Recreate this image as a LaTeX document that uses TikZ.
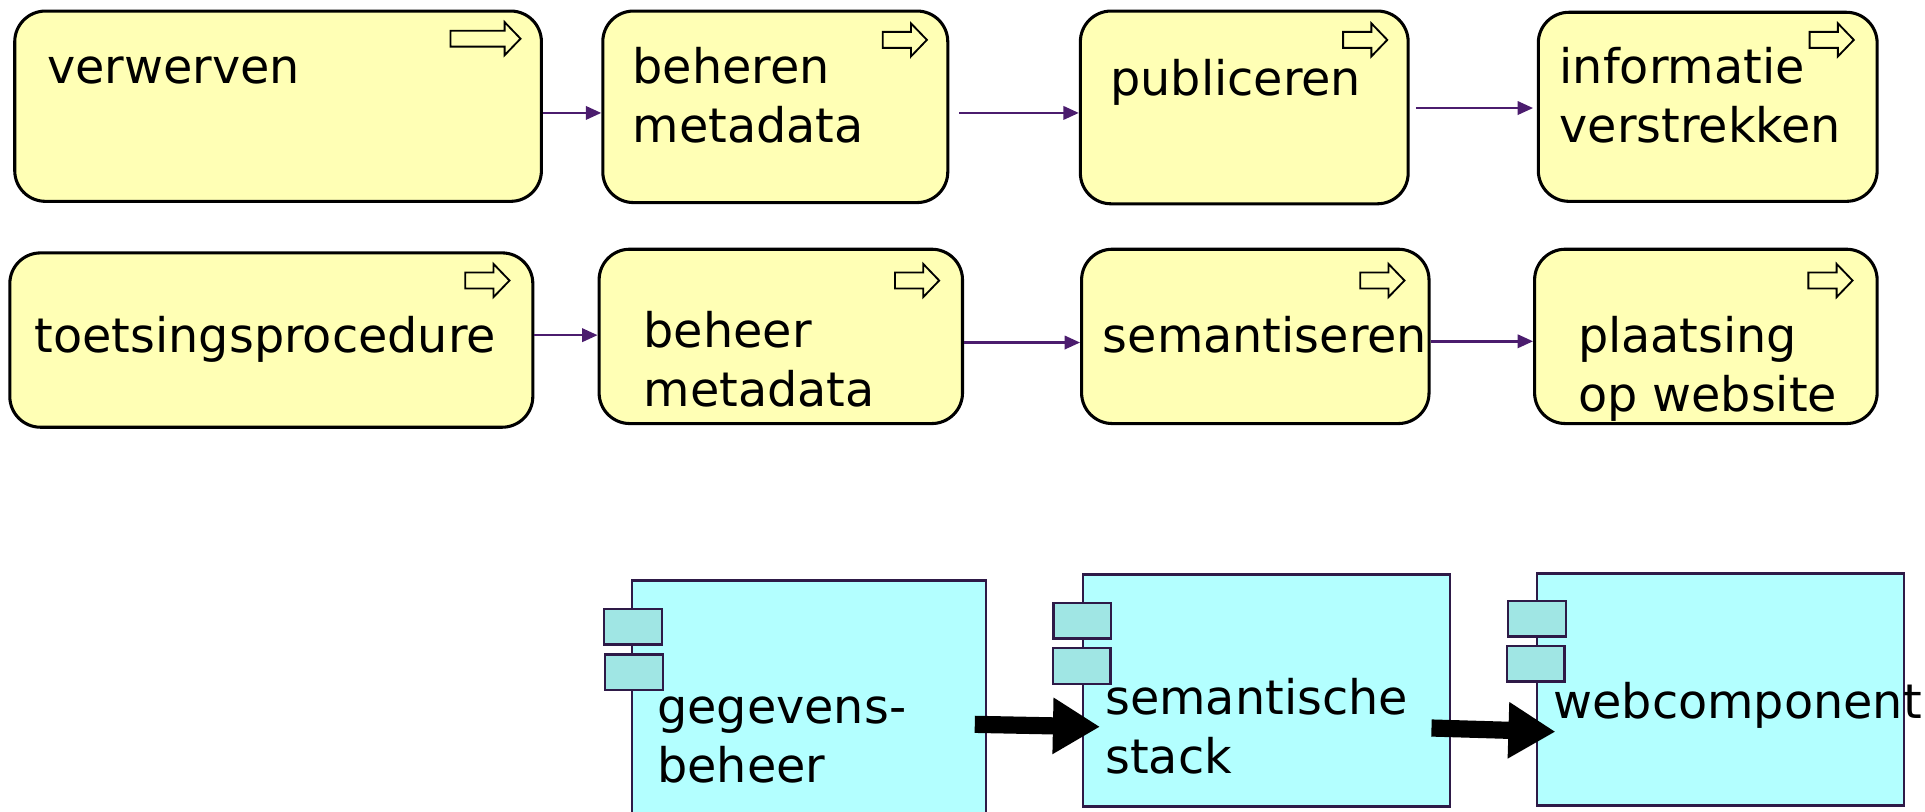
\documentclass[tikz,border=0pt]{standalone}
\usepackage{fontspec}
\setmainfont{DejaVu Sans}
\usepackage{tikz}
\usetikzlibrary{arrows.meta,calc,positioning}
\usepackage{xcolor}

\definecolor{procyellow}{HTML}{FFFFB5}
\definecolor{compcyan}{HTML}{B3FFFF}
\definecolor{portcyan}{HTML}{A0E6E4}
\definecolor{flowpurple}{HTML}{4B1C6E}
\definecolor{compline}{HTML}{2E1A47}

\newdimen\px \px=0.6pt

\tikzset{
  proc/.style={draw=black, line width=1.5pt, fill=procyellow, rounded corners=15pt, inner sep=0pt},
  comp/.style={draw=compline, line width=1.2pt, fill=compcyan, inner sep=0pt},
  port/.style={draw=compline, line width=1.2pt, fill=portcyan, inner sep=0pt, minimum width=47\px, minimum height=29\px},
  lbl/.style={anchor=base west, inner sep=0pt, align=left, font=\fontsize{23.3}{28.8}\selectfont},
  flow/.style={draw=flowpurple, line width=1.2pt, -{Triangle[length=7.5pt,width=6.5pt]}},
  bigflow/.style={draw=black, line width=8.4pt, -{Triangle[length=23pt,width=26pt]}},
  icon/.style={draw=black, line width=0.9pt, fill=procyellow}
}

% block arrow in the corner of a process box: x, y, width
\newcommand{\actarrow}[3]{%
  \draw[icon] (#1,#2+7) -- (#1+#3-13,#2+7) -- (#1+#3-13,#2) -- (#1+#3,#2+13.5)
    -- (#1+#3-13,#2+27) -- (#1+#3-13,#2+20) -- (#1,#2+20) -- cycle;}

\begin{document}
\begin{tikzpicture}[x=0.6pt,y=-0.6pt]
  \useasboundingbox (0,0) rectangle (1568,661);

  % first row
  \node[proc, minimum width=429\px, minimum height=155\px] (verw) at (226.5,86.5) {};
  \node[proc, minimum width=281\px, minimum height=156\px] (behr) at (631.5,87) {};
  \node[proc, minimum width=267\px, minimum height=157\px] (publ) at (1013.5,87.5) {};
  \node[proc, minimum width=276\px, minimum height=154\px] (info) at (1391,87) {};
  \actarrow{367}{18}{57}
  \actarrow{719}{19}{36}
  \actarrow{1094}{19}{36}
  \actarrow{1474}{19}{36}
  \node[lbl] (verwt) at (38,68) {verwerven};
  \node[lbl] (behrt) at (515,116) {beheren\\metadata};
  \node[lbl] (publt) at (904,78) {publiceren};
  \node[lbl] (infot) at (1270,116) {informatie\\verstrekken};

  % second row
  \node[proc, minimum width=426\px, minimum height=142\px] (toets) at (221,277) {};
  \node[proc, minimum width=296\px, minimum height=142\px] (behm) at (636,274) {};
  \node[proc, minimum width=283\px, minimum height=142\px] (sem) at (1022.5,274) {};
  \node[proc, minimum width=279\px, minimum height=142\px] (plaats) at (1389.5,274) {};
  \actarrow{379}{215}{36}
  \actarrow{729}{215}{36}
  \actarrow{1108}{215}{36}
  \actarrow{1473}{215}{36}
  \node[lbl] (toetst) at (28,287) {toetsingsprocedure};
  \node[lbl] (behmt) at (524,331) {beheer\\metadata};
  \node[lbl] (semt) at (898,287) {semantiseren};
  \node[lbl] (plaatst) at (1285,335) {plaatsing\\op website};

  \draw[flow] (verw.east |- 0,92) -- (behr.west |- 0,92);
  \draw[flow] ($(behr.east |- 0,92)+(8,0)$) -- (publ.west |- 0,92);
  \draw[flow] ($(publ.east |- 0,88)+(5,0)$) -- ($(info.west |- 0,88)+(-3,0)$);
  \draw[flow] (toets.east |- 0,273) -- (behm.west |- 0,273);
  \draw[flow] (behm.east |- 0,279) -- (sem.west |- 0,279);
  \draw[flow] (sem.east |- 0,278) -- (plaats.west |- 0,278);

  % application components
  \node[comp, minimum width=288\px, minimum height=217\px] (gegb) at (659,581.5) {};
  \node[port] (gegb1) at (515.5,510.5) {};
  \node[port] (gegb2) at (516.5,547.5) {};
  \node[comp, minimum width=299\px, minimum height=189\px] (stack) at (1031.5,562.5) {};
  \node[port] (stack1) at (881.5,505.5) {};
  \node[port] (stack2) at (881,542.5) {};
  \node[comp, minimum width=299\px, minimum height=189\px] (webc) at (1401.5,561.5) {};
  \node[port] (webc1) at (1252,504) {};
  \node[port] (webc2) at (1251,540.5) {};
  \node[lbl] (gegbt) at (535,637) {gegevens-\\beheer};
  \node[lbl] (stackt) at (900,630) {semantische\\stack};
  \node[lbl] (webct) at (1265,585) {webcomponent};

  \draw[bigflow] ($(gegb.east |- 0,590)+(-10,0)$) -- ($(stack.west |- 0,592)+(15,0)$);
  \draw[bigflow] ($(stack.east |- 0,593)+(-16,0)$) -- ($(webc.west |- 0,596)+(16,0)$);
\end{tikzpicture}
\end{document}
